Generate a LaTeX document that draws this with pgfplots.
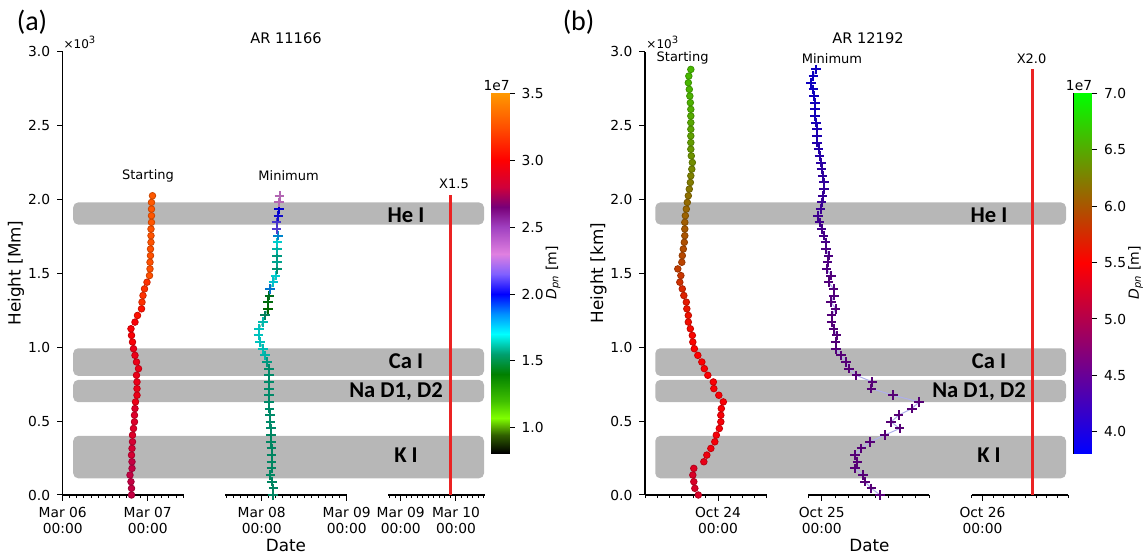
\documentclass[border=0pt]{standalone}
\usepackage{fontspec}
\setmainfont{DejaVu Sans}
\newfontfamily\calibri{Carlito}
\usepackage{pgfplots}
\pgfplotsset{compat=1.18}
\usepackage{pgfplotstable}

\definecolor{redline}{RGB}{235,35,35}
\definecolor{bandgray}{RGB}{183,183,183}
\definecolor{tealline}{RGB}{90,190,170}
\definecolor{lavline}{RGB}{175,175,235}

\pgfkeys{/pgf/number format/assume math mode=true}

\pgfplotsset{
  colormap={cmapA}{rgb255(81pt)=(0,0,0); rgb255(95pt)=(48,96,0); rgb255(107pt)=(128,255,0); rgb255(120pt)=(64,192,0); rgb255(140pt)=(0,128,0); rgb255(155pt)=(0,160,112); rgb255(170pt)=(0,255,255); rgb255(185pt)=(0,144,255); rgb255(200pt)=(0,0,255); rgb255(215pt)=(128,96,255); rgb255(230pt)=(224,128,224); rgb255(250pt)=(160,64,192); rgb255(265pt)=(120,0,120); rgb255(280pt)=(208,0,58); rgb255(300pt)=(255,0,0); rgb255(325pt)=(255,80,0); rgb255(350pt)=(255,153,0)},
  colormap={cmapB}{rgb255(381pt)=(0,0,255); rgb255(550pt)=(255,0,0); rgb255(700pt)=(0,255,0)},
  seg/.style={
    scale only axis, anchor=south west, height=221.65pt,
    ymin=0, ymax=3, clip=false,
    axis x line*=bottom,
    tick align=outside,
    major tick length=2.8pt, minor tick length=1.6pt,
    every tick/.style={black, line width=0.5pt},
    axis line style={line width=0.65pt},
    tick label style={font=\fontsize{6.9pt}{7.7pt}\selectfont},
    xticklabel style={align=center},
    yticklabel style={/pgf/number format/fixed, /pgf/number format/fixed zerofill, /pgf/number format/precision=1},
  },
  cbar/.style={
    scale only axis, anchor=south west, width=9pt, height=180pt,
    xmin=0, xmax=1, xtick=\empty,
    ytick pos=right, yticklabel pos=right, tick align=outside,
    major tick length=2.8pt,
    every tick/.style={black, line width=0.5pt},
    axis line style={line width=0.5pt},
    tick label style={font=\fontsize{6.9pt}{7.7pt}\selectfont},
    yticklabel style={/pgf/number format/fixed, /pgf/number format/fixed zerofill, /pgf/number format/precision=1},
  },
}

% Panel (a), Starting: t = hours since Mar 06 00:00, h = height (x10^3), c = D_pn (x1e7)
\pgfplotstableread{
t h c
19.43 0.000 2.78
19.43 0.045 2.78
19.28 0.090 2.78
19.00 0.135 2.78
19.57 0.180 2.78
19.57 0.225 2.78
19.43 0.270 2.82
19.57 0.315 2.82
19.71 0.360 2.82
19.71 0.405 2.86
19.99 0.450 2.86
20.27 0.495 2.86
20.27 0.540 2.86
20.41 0.585 2.86
20.56 0.630 2.92
20.98 0.675 2.92
20.98 0.720 2.92
20.98 0.765 2.92
20.84 0.810 2.92
21.40 0.855 2.92
20.84 0.900 2.92
20.41 0.945 2.92
19.99 0.990 2.92
19.71 1.035 2.98
19.43 1.080 2.98
19.28 1.125 2.98
20.41 1.170 2.98
21.12 1.215 3.05
22.25 1.260 3.05
22.39 1.305 3.15
22.67 1.350 3.15
23.10 1.395 3.15
23.80 1.440 3.15
24.51 1.485 3.25
24.65 1.530 3.25
24.65 1.575 3.25
24.79 1.620 3.25
24.79 1.665 3.25
24.93 1.710 3.26
24.93 1.755 3.26
24.93 1.800 3.26
25.07 1.845 3.27
25.07 1.890 3.27
25.07 1.935 3.27
25.07 1.980 3.28
25.35 2.025 3.28
}\startA

% Panel (a), Minimum
\pgfplotstableread{
t h c
51.19 0.000 1.56
51.33 0.045 1.56
50.91 0.090 1.56
50.48 0.135 1.56
50.77 0.180 1.56
50.77 0.225 1.56
50.77 0.270 1.56
50.77 0.315 1.56
50.63 0.360 1.56
50.63 0.405 1.56
50.63 0.450 1.57
50.48 0.495 1.57
50.34 0.540 1.57
50.20 0.585 1.57
50.06 0.630 1.57
50.06 0.675 1.57
50.06 0.720 1.57
50.06 0.765 1.57
50.06 0.810 1.57
50.06 0.855 1.57
49.50 0.900 1.60
48.93 0.945 1.65
48.37 0.990 1.67
47.52 1.035 1.68
47.10 1.080 1.68
47.24 1.125 1.68
48.37 1.170 1.66
48.93 1.215 1.55
49.78 1.260 1.40
49.78 1.305 1.42
50.20 1.350 1.45
50.34 1.395 1.85
51.33 1.440 1.72
51.90 1.485 1.70
52.32 1.530 1.58
52.32 1.575 1.62
52.32 1.620 1.60
52.32 1.665 1.65
52.46 1.710 1.70
52.60 1.755 1.82
52.18 1.800 2.12
52.18 1.845 2.10
52.74 1.890 2.02
52.88 1.935 2.00
52.88 1.980 2.30
53.03 2.025 2.30
}\minA

% Panel (b), Starting: t = hours since Oct 23 00:00
\pgfplotstableread{
t h c
20.76 0.000 5.25
20.19 0.045 5.25
20.02 0.090 5.25
19.86 0.135 5.25
20.02 0.180 5.28
21.67 0.225 5.35
22.16 0.270 5.40
22.82 0.315 5.42
23.47 0.360 5.44
23.72 0.405 5.45
24.21 0.450 5.45
24.46 0.495 5.45
24.46 0.540 5.45
24.54 0.585 5.46
24.87 0.630 5.46
24.13 0.675 5.46
23.31 0.720 5.47
23.23 0.765 5.47
22.32 0.810 5.48
21.75 0.855 5.48
21.34 0.900 5.49
20.68 0.945 5.50
20.11 0.990 5.50
19.86 1.035 5.52
19.78 1.080 5.53
19.45 1.125 5.55
19.12 1.170 5.57
19.12 1.215 5.60
18.87 1.260 5.62
18.79 1.305 5.65
18.38 1.350 5.70
18.13 1.395 5.73
17.72 1.440 5.78
17.89 1.485 5.82
17.39 1.530 5.86
18.05 1.575 5.90
18.13 1.620 5.93
18.30 1.665 5.95
18.46 1.710 5.97
18.54 1.755 6.00
18.54 1.800 6.02
18.54 1.845 6.05
18.63 1.890 6.08
18.79 1.935 6.10
18.95 1.980 6.13
19.12 2.025 6.16
19.28 2.070 6.20
19.45 2.115 6.23
19.53 2.160 6.26
19.69 2.205 6.30
19.78 2.250 6.33
19.61 2.295 6.36
19.53 2.340 6.39
19.53 2.385 6.42
19.53 2.430 6.44
19.53 2.475 6.46
19.53 2.520 6.48
19.53 2.565 6.50
19.53 2.610 6.52
19.45 2.655 6.54
19.37 2.700 6.55
19.28 2.745 6.56
19.12 2.790 6.57
19.20 2.835 6.58
19.53 2.880 6.58
}\startB

% Panel (b), Minimum
\pgfplotstableread{
t h c
56.67 0.000 4.52
55.39 0.045 4.52
54.42 0.090 4.52
54.12 0.135 4.52
52.99 0.180 4.52
53.29 0.225 4.52
52.92 0.270 4.52
53.89 0.315 4.52
55.17 0.360 4.52
57.34 0.405 4.52
59.59 0.450 4.52
58.31 0.495 4.52
59.44 0.540 4.52
61.39 0.585 4.52
62.51 0.630 4.52
58.61 0.675 4.52
55.39 0.720 4.52
55.54 0.765 4.52
53.14 0.810 4.52
52.02 0.855 4.52
51.64 0.900 4.52
50.82 0.945 4.52
50.14 0.990 4.50
50.07 1.035 4.50
50.22 1.080 4.50
49.77 1.125 4.50
49.47 1.170 4.50
49.47 1.215 4.50
50.07 1.260 4.50
49.39 1.305 4.50
49.84 1.350 4.48
49.77 1.395 4.48
49.02 1.440 4.48
49.39 1.485 4.47
48.72 1.530 4.45
48.87 1.575 4.45
49.02 1.620 4.43
48.64 1.665 4.42
48.57 1.710 4.40
48.27 1.755 4.38
47.97 1.800 4.36
47.67 1.845 4.34
47.45 1.890 4.32
47.82 1.935 4.30
47.97 1.980 4.28
48.12 2.025 4.26
48.34 2.070 4.24
48.34 2.115 4.22
48.12 2.160 4.20
47.97 2.205 4.18
47.90 2.250 4.15
47.67 2.295 4.12
47.52 2.340 4.10
47.30 2.385 4.08
47.30 2.430 4.05
47.30 2.475 4.03
47.15 2.520 4.00
47.00 2.565 3.98
47.00 2.610 3.96
47.00 2.655 3.95
46.85 2.700 3.94
46.77 2.745 3.93
46.40 2.790 3.92
46.77 2.835 3.92
47.15 2.880 3.92
}\minB

\begin{document}
\begin{tikzpicture}
\path[use as bounding box] (0pt,0pt) rectangle (573pt,277.5pt);

% ---------- overlay axis: formation-height bands ----------
\begin{axis}[at={(0pt,30pt)}, anchor=south west, scale only axis,
  width=573pt, height=221.65pt, xmin=0, xmax=1146, ymin=0, ymax=3,
  hide axis, clip=false]
  \fill[bandgray, rounded corners=2.5pt] (axis cs:73.2,1.83) rectangle (axis cs:484,1.98);
  \fill[bandgray, rounded corners=2.5pt] (axis cs:73.2,0.806) rectangle (axis cs:484,0.993);
  \fill[bandgray, rounded corners=2.5pt] (axis cs:73.2,0.628) rectangle (axis cs:484,0.779);
  \fill[bandgray, rounded corners=2.5pt] (axis cs:73.2,0.113) rectangle (axis cs:484,0.40);
  \fill[bandgray, rounded corners=2.5pt] (axis cs:655.3,1.83) rectangle (axis cs:1066,1.98);
  \fill[bandgray, rounded corners=2.5pt] (axis cs:655.3,0.806) rectangle (axis cs:1066,0.993);
  \fill[bandgray, rounded corners=2.5pt] (axis cs:655.3,0.628) rectangle (axis cs:1066,0.779);
  \fill[bandgray, rounded corners=2.5pt] (axis cs:655.3,0.113) rectangle (axis cs:1066,0.40);
  \begin{scope}[every node/.style={anchor=base, inner sep=0pt, font=\calibri\bfseries\fontsize{11.3pt}{13pt}\selectfont}]
  \node at (axis cs:406,1.841) {He I};
  \node at (axis cs:406,0.854) {Ca I};
  \node at (axis cs:396,0.658) {Na D1, D2};
  \node at (axis cs:406,0.223) {K I};
  \node at (axis cs:989,1.841) {He I};
  \node at (axis cs:989,0.854) {Ca I};
  \node at (axis cs:979,0.658) {Na D1, D2};
  \node at (axis cs:989,0.223) {K I};
  \end{scope}
\end{axis}

% ---------- panel (a) ----------
\begin{axis}[seg, at={(31.35pt,30pt)}, width=60.65pt, xmin=0, xmax=34.25,
  axis y line*=left, ytick={0,0.5,1,1.5,2,2.5,3},
  xtick={0,24}, xticklabels={{Mar 06\\00:00},{Mar 07\\00:00}},
  minor xtick={2,4,...,34},
  colormap name=cmapA, point meta min=0.81, point meta max=3.5]
  \addplot[scatter, only marks, mark=*, mark size=1.65pt, scatter src=explicit]
    table[x=t, y=h, meta=c] {\startA};
\end{axis}

\begin{axis}[seg, at={(112.5pt,30pt)}, width=60.85pt, xmin=37.64, xmax=72,
  axis y line=none,
  xtick={48,72}, xticklabels={{Mar 08\\00:00},{Mar 09\\00:00}},
  minor xtick={38,40,...,72},
  colormap name=cmapA, point meta min=0.81, point meta max=3.5]
  \addplot[no marks, tealline, line width=0.5pt] table[x=t, y=h] {\minA};
  \addplot[scatter, only marks, mark=+, mark size=2.4pt, mark options={line width=1pt}, scatter src=explicit]
    table[x=t, y=h, meta=c] {\minA};
\end{axis}

\begin{axis}[seg, at={(194pt,30pt)}, width=48.5pt, xmin=66.49, xmax=108.59,
  axis y line=none,
  xtick={72,96}, xticklabels={{Mar 09\\00:00},{Mar 10\\00:00}},
  minor xtick={67.2,69.6,74.4,76.8,79.2,81.6,84,86.4,88.8,91.2,93.6,98.4,100.8,103.2,105.6,108}]
  \addplot[redline, line width=1.2pt] coordinates {(93.7,0) (93.7,2.03)};
\end{axis}

\begin{axis}[cbar, at={(245.5pt,50.85pt)}, ymin=0.81, ymax=3.5,
  ytick={1,1.5,2,2.5,3,3.5},
  colormap name=cmapA, point meta min=0.81, point meta max=3.5]
  \addplot[surf, shader=interp, mesh/cols=2, point meta=y] coordinates {
  (0,0.81) (1,0.81) (0,0.95) (1,0.95) (0,1.07) (1,1.07) (0,1.2) (1,1.2)
  (0,1.4) (1,1.4) (0,1.55) (1,1.55) (0,1.7) (1,1.7) (0,1.85) (1,1.85)
  (0,2.0) (1,2.0) (0,2.15) (1,2.15) (0,2.3) (1,2.3) (0,2.5) (1,2.5)
  (0,2.65) (1,2.65) (0,2.8) (1,2.8) (0,3.0) (1,3.0) (0,3.25) (1,3.25)
  (0,3.5) (1,3.5)};
\end{axis}

% ---------- panel (b) ----------
\begin{axis}[seg, at={(322.5pt,30pt)}, width=60.85pt, xmin=12, xmax=32,
  axis y line*=left, ytick={0,0.5,1,1.5,2,2.5,3},
  xtick={24}, xticklabels={{Oct 24\\00:00}},
  minor xtick={12,14,...,32},
  colormap name=cmapB, point meta min=3.81, point meta max=7.0]
  \addplot[scatter, only marks, mark=*, mark size=1.65pt, scatter src=explicit]
    table[x=t, y=h, meta=c] {\startB};
\end{axis}

\begin{axis}[seg, at={(404.15pt,30pt)}, width=60.5pt, xmin=46, xmax=64,
  axis y line=none,
  xtick={48}, xticklabels={{Oct 25\\00:00}},
  minor xtick={46,48,...,64},
  colormap name=cmapB, point meta min=3.81, point meta max=7.0]
  \addplot[no marks, lavline, line width=0.5pt] table[x=t, y=h] {\minB};
  \addplot[scatter, only marks, mark=+, mark size=2.4pt, mark options={line width=1pt}, scatter src=explicit]
    table[x=t, y=h, meta=c] {\minB};
\end{axis}

\begin{axis}[seg, at={(485.85pt,30pt)}, width=48.3pt, xmin=70, xmax=88,
  axis y line=none,
  xtick={72}, xticklabels={{Oct 26\\00:00}},
  minor xtick={70,72,...,88}]
  \addplot[redline, line width=1.2pt] coordinates {(81.3,0) (81.3,2.884)};
\end{axis}

\begin{axis}[cbar, at={(536.75pt,50.85pt)}, ymin=3.81, ymax=7.0,
  ytick={4,4.5,5,5.5,6,6.5,7},
  colormap name=cmapB, point meta min=3.81, point meta max=7.0]
  \addplot[surf, shader=interp, mesh/cols=2, point meta=y] coordinates {
  (0,3.81) (1,3.81) (0,4.5) (1,4.5) (0,5.0) (1,5.0) (0,5.5) (1,5.5)
  (0,6.0) (1,6.0) (0,6.5) (1,6.5) (0,7.0) (1,7.0)};
\end{axis}

% ---------- texts ----------
\node[font=\calibri\fontsize{14pt}{16pt}\selectfont] at (16pt,266.5pt) {(a)};
\node[font=\calibri\fontsize{14pt}{16pt}\selectfont] at (289.3pt,266.5pt) {(b)};
\node[font=\fontsize{7.3pt}{8.5pt}\selectfont] at (143pt,258.5pt) {AR 11166};
\node[font=\fontsize{7.3pt}{8.5pt}\selectfont] at (434pt,258.5pt) {AR 12192};
\node[font=\fontsize{6pt}{7pt}\selectfont] at (40pt,256.5pt) {×10\textsuperscript{3}};
\node[font=\fontsize{6pt}{7pt}\selectfont] at (331.4pt,256.5pt) {×10\textsuperscript{3}};
\node[font=\fontsize{6.5pt}{7.5pt}\selectfont] at (74pt,189.5pt) {Starting};
\node[font=\fontsize{6.5pt}{7.5pt}\selectfont] at (144.3pt,189.5pt) {Minimum};
\node[font=\fontsize{6.5pt}{7.5pt}\selectfont] at (227pt,185.5pt) {X1.5};
\node[font=\fontsize{6.5pt}{7.5pt}\selectfont] at (341.3pt,248.3pt) {Starting};
\node[font=\fontsize{6.5pt}{7.5pt}\selectfont] at (416pt,248.3pt) {Minimum};
\node[font=\fontsize{6.5pt}{7.5pt}\selectfont] at (515.8pt,248.3pt) {X2.0};
\node[font=\fontsize{8.4pt}{10pt}\selectfont] at (143pt,4.5pt) {Date};
\node[font=\fontsize{8.4pt}{10pt}\selectfont] at (434.7pt,4.5pt) {Date};
\node[font=\fontsize{8.4pt}{10pt}\selectfont, rotate=90] at (8pt,141pt) {Height [Mm]};
\node[font=\fontsize{8.4pt}{10pt}\selectfont, rotate=90] at (299.2pt,141pt) {Height [km]};
\node[font=\fontsize{6.9pt}{8pt}\selectfont, anchor=south, inner sep=1pt] at (248.3pt,230.9pt) {1e7};
\node[font=\fontsize{6.9pt}{8pt}\selectfont, anchor=south, inner sep=1pt] at (539.5pt,230.9pt) {1e7};
\node[font=\fontsize{7pt}{8pt}\selectfont, rotate=90] at (276.5pt,141pt) {{\itshape D}\textsubscript{\itshape pn} [m]};
\node[font=\fontsize{7pt}{8pt}\selectfont, rotate=90] at (567.8pt,141pt) {{\itshape D}\textsubscript{\itshape pn} [m]};
\end{tikzpicture}
\end{document}
